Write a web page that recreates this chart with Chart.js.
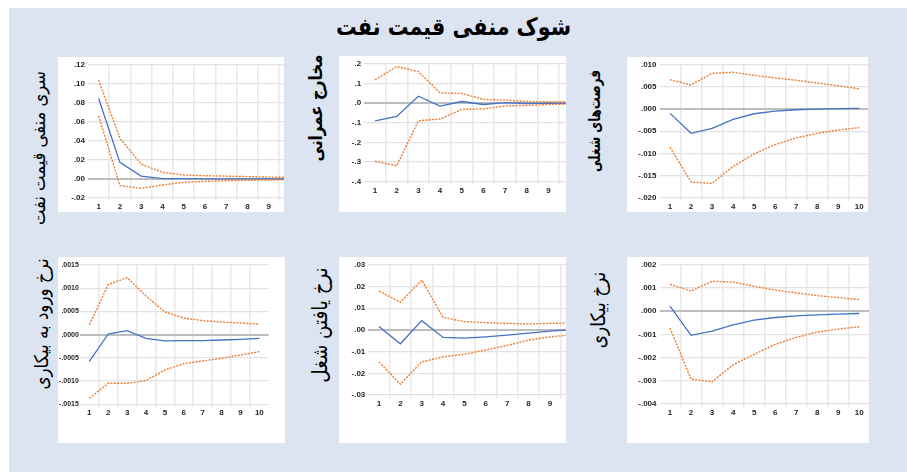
<!DOCTYPE html>
<html>
<head>
<meta charset="utf-8">
<script src="https://cdn.jsdelivr.net/npm/chart.js@4.4.1/dist/chart.umd.min.js"></script>
<style>
  body { margin: 0; width: 907px; height: 472px; background: #fff; position: relative; overflow: hidden; font-family: 'DejaVu Sans', sans-serif; }
  #bg { position: absolute; left: 9px; top: 8px; right: 0; bottom: 0; background: #dbe4f0; }
  #title { position: absolute; left: 0; width: 907px; top: 11px; line-height: 32px; text-align: center; font-weight: bold; font-size: 24px; direction: rtl; color: #000; transform: scaleX(0.86); }
  .panel { position: absolute; background: #fff; overflow: hidden; }
  .panel canvas { position: absolute; left: 0; top: 0; }
  .ytitle { position: absolute; white-space: nowrap; direction: rtl; color: #000; line-height: 1; }
</style>
</head>
<body>
<div id="bg"></div>
<div id="title">شوک منفی قیمت نفت</div>
<script>
// periods after the shock
const periods = ['1', '2', '3', '4', '5', '6', '7', '8', '9', '10'];

// سری منفی قیمت نفت
const oilMid = [0.0847, 0.0175, 0.003, 0.0004, 0.0003, 0.0002, 0.0001, 0.0001, 0.0001, 0.0];
const oilHi  = [0.104, 0.043, 0.0157, 0.007, 0.0042, 0.0035, 0.003, 0.0025, 0.002, 0.0018];
const oilLo  = [0.0665, -0.007, -0.0098, -0.0063, -0.0035, -0.0025, -0.0018, -0.0014, -0.001, -0.0009];
const oilTicks  = [-0.02, 0, 0.02, 0.04, 0.06, 0.08, 0.10, 0.12];
const oilLabels = ['-.02', '.00', '.02', '.04', '.06', '.08', '.10', '.12'];

// مخارج عمرانی
const devMid = [-0.091, -0.068, 0.035, -0.015, 0.008, -0.007, 0.002, -0.002, 0.0, -0.001];
const devHi  = [0.118, 0.186, 0.160, 0.052, 0.049, 0.019, 0.015, 0.008, 0.007, 0.007];
const devLo  = [-0.296, -0.319, -0.09, -0.081, -0.032, -0.030, -0.014, -0.012, -0.007, -0.005];
const devTicks  = [-0.4, -0.3, -0.2, -0.1, 0, 0.1, 0.2];
const devLabels = ['-.4', '-.3', '-.2', '-.1', '.0', '.1', '.2'];

// فرصت‌های شغلی
const jobsMid = [-0.00097, -0.00546, -0.00434, -0.00232, -0.00105, -0.00045, -0.00015, 0.0, 0.0001, 0.00015];
const jobsHi  = [0.00666, 0.00546, 0.00808, 0.00831, 0.00763, 0.00704, 0.00651, 0.00591, 0.00524, 0.00457];
const jobsLo  = [-0.0086, -0.01647, -0.01677, -0.01295, -0.0101, -0.008, -0.00651, -0.00546, -0.00472, -0.00419];
const jobsTicks  = [-0.020, -0.015, -0.010, -0.005, 0, 0.005, 0.010];
const jobsLabels = ['-.020', '-.015', '-.010', '-.005', '.000', '.005', '.010'];

// نرخ ورود به بیکاری
const entryMid = [-0.000574, 0.000014, 0.000086, -0.000079, -0.000136, -0.000129, -0.000129, -0.000115, -0.0001, -0.000079];
const entryHi  = [0.000215, 0.001077, 0.001227, 0.000833, 0.000488, 0.000359, 0.000301, 0.000273, 0.000251, 0.000222];
const entryLo  = [-0.00137, -0.001048, -0.001048, -0.00099, -0.00076, -0.000624, -0.000567, -0.00051, -0.000438, -0.000366];
const entryTicks  = [-0.0015, -0.0010, -0.0005, 0, 0.0005, 0.0010, 0.0015];
const entryLabels = ['-.0015', '-.0010', '-.0005', '.0000', '.0005', '.0010', '.0015'];

// نرخ یافتن شغل
const findMid = [0.00152, -0.00638, 0.00425, -0.00349, -0.0038, -0.00319, -0.00243, -0.00152, -0.0006, 0.00015];
const findHi  = [0.0179, 0.01276, 0.02294, 0.00577, 0.0038, 0.00334, 0.00304, 0.00273, 0.00304, 0.00319];
const findLo  = [-0.01473, -0.02506, -0.01473, -0.01246, -0.01124, -0.00927, -0.00714, -0.00471, -0.00319, -0.00228];
const findTicks  = [-0.03, -0.02, -0.01, 0, 0.01, 0.02, 0.03];
const findLabels = ['-.03', '-.02', '-.01', '.00', '.01', '.02', '.03'];

// نرخ بیکاری
const unempMid = [0.000214, -0.00104, -0.000857, -0.000586, -0.000386, -0.000271, -0.0002, -0.000157, -0.000129, -0.0001];
const unempHi  = [0.001157, 0.000871, 0.001286, 0.001257, 0.001071, 0.000914, 0.000786, 0.000671, 0.000586, 0.0005];
const unempLo  = [-0.000729, -0.00293, -0.00304, -0.00231, -0.00186, -0.00143, -0.00113, -0.0009, -0.00077, -0.00067];
const unempTicks  = [-0.004, -0.003, -0.002, -0.001, 0, 0.001, 0.002];
const unempLabels = ['-.004', '-.003', '-.002', '-.001', '.000', '.001', '.002'];

const blue = '#4472c4';
const orange = '#ed7d31';
const tickFamily = "'Liberation Sans Narrow', 'Arial Narrow', 'Liberation Sans', sans-serif";

// box: white panel [x, y, w, h]; plot: [left, top, right, bottom] in page pixels
// t: y-title [centre x, centre y, font size, weight, horizontal squeeze]; fs: y tick font size
const panels = [
  { name: 'سری منفی قیمت نفت', box: [58, 57, 226, 155], plot: [88, 65, 300.5, 198], t: [39, 148, 18, 'normal', 0.91], fs: 8,
    mid: oilMid, hi: oilHi, lo: oilLo, ticks: oilTicks, labels: oilLabels },
  { name: 'مخارج عمرانی', box: [339, 56, 227, 156], plot: [364.2, 63.3, 580.9, 181.7], t: [316, 108, 18, 'bold', 0.84], fs: 8,
    mid: devMid, hi: devHi, lo: devLo, ticks: devTicks, labels: devLabels },
  { name: 'فرصت‌های شغلی', box: [627, 57, 241, 155], plot: [659.5, 64, 869.8, 197.7], t: [595, 121, 16, 'bold', 0.74], fs: 8,
    mid: jobsMid, hi: jobsHi, lo: jobsLo, ticks: jobsTicks, labels: jobsLabels },
  { name: 'نرخ ورود به بیکاری', box: [58, 257, 227, 186], plot: [79.9, 265, 268.8, 404.3], t: [41, 324, 19, 'normal', 0.88], fs: 7,
    mid: entryMid, hi: entryHi, lo: entryLo, ticks: entryTicks, labels: entryLabels },
  { name: 'نرخ یافتن شغل', box: [339, 257, 227, 186], plot: [368.3, 263.3, 582, 395], t: [320, 325, 21, 'normal', 0.87], fs: 8,
    mid: findMid, hi: findHi, lo: findLo, ticks: findTicks, labels: findLabels },
  { name: 'نرخ بیکاری', box: [627, 257, 242, 186], plot: [659.5, 264, 869.8, 404], t: [598, 310, 20, 'normal', 0.85], fs: 8,
    mid: unempMid, hi: unempHi, lo: unempLo, ticks: unempTicks, labels: unempLabels }
];

panels.forEach(p => {
  const [bx, by, bw, bh] = p.box;
  const [pl, pt, pr, pb] = p.plot;

  // y title sits on the blue ground, behind the white panel
  const title = document.createElement('div');
  title.className = 'ytitle';
  title.textContent = p.name;
  title.style.left = p.t[0] + 'px'; title.style.top = p.t[1] + 'px';
  title.style.fontSize = p.t[2] + 'px'; title.style.fontWeight = p.t[3];
  title.style.transform = 'translate(-50%, -50%) rotate(-90deg) scaleX(' + p.t[4] + ')';
  document.body.appendChild(title);

  const div = document.createElement('div');
  div.className = 'panel';
  div.style.left = bx + 'px'; div.style.top = by + 'px';
  div.style.width = bw + 'px'; div.style.height = bh + 'px';
  document.body.appendChild(div);

  const cw = Math.ceil(pr - bx) + 2;
  const canvas = document.createElement('canvas');
  canvas.width = cw; canvas.height = bh;
  div.appendChild(canvas);

  const band = { borderColor: orange, borderWidth: 1.4, borderDash: [2, 1.3], pointRadius: 0, tension: 0, fill: false };
  new Chart(canvas.getContext('2d'), {
    type: 'line',
    data: {
      labels: periods,
      datasets: [
        { data: p.hi, ...band },
        { data: p.lo, ...band },
        { data: p.mid, borderColor: blue, borderWidth: 1.3, pointRadius: 0, tension: 0, fill: false }
      ]
    },
    options: {
      responsive: false,
      animation: false,
      layout: { padding: { left: 0, top: pt - by, right: cw - (pr - bx), bottom: 0 } },
      plugins: { legend: { display: false }, tooltip: { enabled: false } },
      scales: {
        x: {
          offset: true,
          border: { display: false },
          grid: {
            offset: true,
            drawTicks: true,
            tickLength: 3,
            lineWidth: 1.6,
            color: c => (c.type === 'tick' && c.index > 0) ? '#e9e9e9' : 'rgba(0,0,0,0)'
          },
          ticks: { font: { family: tickFamily, size: 8, weight: 'bold' }, color: '#262626', padding: 1, maxRotation: 0, autoSkip: false },
          afterFit: s => { s.height = (by + bh) - pb; }
        },
        y: {
          min: p.ticks[0],
          max: p.ticks[p.ticks.length - 1],
          border: { display: false },
          grid: {
            drawTicks: false,
            color: c => (c.tick && c.tick.value === 0) ? '#bdbdbd' : '#e2e2e2',
            lineWidth: c => (c.tick && c.tick.value === 0) ? 2 : 1.3
          },
          ticks: {
            font: { family: tickFamily, size: p.fs, weight: 'bold' }, color: '#262626', padding: p.fs < 8 ? 1 : 3,
            callback: (v, i) => p.labels[i]
          },
          afterBuildTicks: s => { s.ticks = p.ticks.map(v => ({ value: v })); },
          afterFit: s => { s.width = pl - bx; }
        }
      }
    }
  });
});
</script>
</body>
</html>
